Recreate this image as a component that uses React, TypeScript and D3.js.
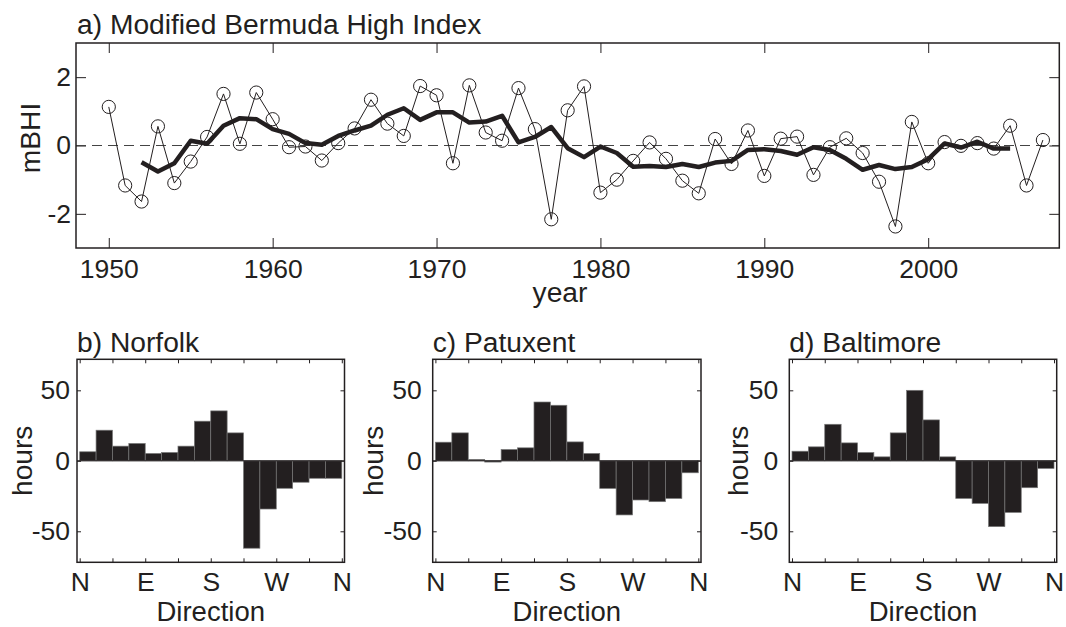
import React, { useEffect, useRef } from 'react';
import * as d3 from 'd3';

// a) modified Bermuda High index, 1950-2007
const firstYear = 1950;
const mbhi = [
  1.13, -1.17, -1.64, 0.56, -1.10, -0.47, 0.25, 1.51, 0.05, 1.55,
  0.77, -0.05, -0.03, -0.44, 0.07, 0.50, 1.34, 0.64, 0.28, 1.74,
  1.47, -0.52, 1.76, 0.38, 0.14, 1.68, 0.48, -2.16, 1.03, 1.73,
  -1.38, -1.00, -0.45, 0.09, -0.39, -1.03, -1.40, 0.19, -0.54, 0.44,
  -0.89, 0.20, 0.26, -0.86, -0.05, 0.21, -0.22, -1.06, -2.37, 0.69,
  -0.52, 0.10, -0.01, 0.07, -0.09, 0.58, -1.17, 0.16
];
// smoothed index, 1952-2005
const smoothFirstYear = 1952;
const mbhiSmooth = [
  -0.49, -0.76, -0.52, 0.14, 0.05, 0.58, 0.80, 0.77, 0.48, 0.34,
  0.07, 0.02, 0.28, 0.44, 0.58, 0.90, 1.09, 0.75, 0.97, 0.97,
  0.67, 0.70, 0.87, 0.09, 0.25, 0.54, -0.08, -0.34, -0.03, -0.22,
  -0.62, -0.60, -0.63, -0.54, -0.63, -0.50, -0.45, -0.13, -0.11, -0.16,
  -0.27, -0.05, -0.13, -0.39, -0.71, -0.57, -0.69, -0.63, -0.40, 0.06,
  -0.06, 0.11, -0.09, -0.09
];
const yearTicks = [1950, 1960, 1970, 1980, 1990, 2000];
const mbhiTicks = [-2, 0, 2];

// b-d) hours per wind direction bin (22.5 deg bins starting at N)
const dirBins = [0, 22.5, 45, 67.5, 90, 112.5, 135, 157.5, 180, 202.5, 225, 247.5, 270, 292.5, 315, 337.5];
const norfolk = [6.4, 21.7, 10.4, 12.3, 5.2, 5.9, 10.4, 28.1, 35.4, 19.8, -62.0, -34.2, -19.5, -15.2, -12.4, -12.4];
const patuxent = [13.2, 19.8, 1.0, -0.9, 8.0, 9.2, 41.7, 39.4, 13.4, 5.2, -19.6, -38.4, -27.8, -29.0, -26.7, -8.5];
const baltimore = [6.8, 9.9, 25.9, 12.7, 5.9, 2.8, 19.8, 50.0, 29.0, 2.8, -26.7, -30.2, -46.7, -36.6, -19.1, -5.4];
const dirTicks = [0, 45, 90, 135, 180, 225, 270, 315, 360];
const dirLabels: Record<number, string> = { 0: 'N', 90: 'E', 180: 'S', 270: 'W', 360: 'N' };
const hourTicks = [-50, 0, 50];

const FONT = '"Liberation Sans", Arial, Helvetica, sans-serif';
const INK = '#231f20';
const TICK_FS = 26.5;
const LABEL_FS = 28.2;

const panels = [
  { title: 'b) Norfolk', values: norfolk, left: 77, right: 344.5, labelX: 31.5, pad: 7 },
  { title: 'c) Patuxent', values: patuxent, left: 432.7, right: 701, labelX: 383, pad: 11 },
  { title: 'd) Baltimore', values: baltimore, left: 789.3, right: 1056.7, labelX: 748, pad: 11 },
];

function styleAxis(g: any) {
  g.select('.domain').remove();
  g.selectAll('line').attr('stroke', INK).attr('stroke-width', 1);
  g.selectAll('text').attr('fill', INK).style('font-family', FONT).style('font-size', TICK_FS + 'px');
}

function drawTop(svg: any) {
  const L = 76, R = 1059.3, T = 43, B = 248;
  const x = d3.scaleLinear().domain([1948, 2008]).range([L, R]);
  const y = d3.scaleLinear().domain([-3, 3]).range([B, T]);
  const g = svg.append('g');

  g.append('g').attr('transform', `translate(0,${B})`)
    .call(d3.axisBottom(x).tickValues(yearTicks).tickSize(-10).tickPadding(11).tickFormat((d: any) => String(d)))
    .call(styleAxis);
  g.append('g').attr('transform', `translate(0,${T})`)
    .call(d3.axisTop(x).tickValues(yearTicks).tickSize(-10).tickFormat(() => ''))
    .call(styleAxis);
  g.append('g').attr('transform', `translate(${L},0)`)
    .call(d3.axisLeft(y).tickValues(mbhiTicks).tickSize(-10).tickPadding(5).tickFormat((d: any) => String(d)))
    .call(styleAxis);
  g.append('g').attr('transform', `translate(${R},0)`)
    .call(d3.axisRight(y).tickValues(mbhiTicks).tickSize(-10).tickFormat(() => ''))
    .call(styleAxis);

  // zero line
  g.append('line')
    .attr('x1', L).attr('x2', R).attr('y1', y(0)).attr('y2', y(0))
    .attr('stroke', '#444').attr('stroke-width', 1).attr('stroke-dasharray', '10,6');

  const pts = mbhi.map((v, i) => ({ yr: firstYear + i, v }));
  const sm = mbhiSmooth.map((v, i) => ({ yr: smoothFirstYear + i, v }));
  const line = d3.line<any>().x((d) => x(d.yr)).y((d) => y(d.v));

  g.append('path').attr('d', line(pts)).attr('fill', 'none').attr('stroke', INK).attr('stroke-width', 1);
  g.selectAll('.pt').data(pts).enter().append('circle')
    .attr('cx', (d: any) => x(d.yr)).attr('cy', (d: any) => y(d.v)).attr('r', 6.6)
    .attr('fill', 'none').attr('stroke', INK).attr('stroke-width', 1);
  g.append('path').attr('d', line(sm)).attr('fill', 'none').attr('stroke', INK)
    .attr('stroke-width', 4.5).attr('stroke-linejoin', 'round').attr('stroke-linecap', 'butt');

  g.append('rect').attr('x', L).attr('y', T).attr('width', R - L).attr('height', B - T)
    .attr('fill', 'none').attr('stroke', INK).attr('stroke-width', 1.5);

  g.append('text').attr('x', L + 1).attr('y', 34).text('a) Modified Bermuda High Index')
    .style('font-family', FONT).style('font-size', LABEL_FS + 'px').attr('fill', INK);
  g.append('text').attr('transform', `translate(40,138) rotate(-90)`).attr('text-anchor', 'middle')
    .text('mBHI').style('font-family', FONT).style('font-size', LABEL_FS + 'px').attr('fill', INK);
  g.append('text').attr('x', 560).attr('y', 302).attr('text-anchor', 'middle')
    .text('year').style('font-family', FONT).style('font-size', LABEL_FS + 'px').attr('fill', INK);
}

function drawPanel(svg: any, p: any) {
  const T = 359.3, B = 562.3;
  const x = d3.scaleLinear().domain([-3.7, 363.7]).range([p.left, p.right]);
  const y = d3.scaleLinear().domain([-72, 72]).range([B, T]);
  const g = svg.append('g');

  g.selectAll('.bar').data(p.values).enter().append('rect')
    .attr('x', (_: any, i: number) => x(dirBins[i]))
    .attr('width', x(22.5) - x(0))
    .attr('y', (d: number) => y(Math.max(d, 0)))
    .attr('height', (d: number) => Math.abs(y(d) - y(0)))
    .attr('fill', INK).attr('stroke', '#777').attr('stroke-width', 0.7);

  g.append('line').attr('x1', p.left).attr('x2', p.right).attr('y1', y(0)).attr('y2', y(0))
    .attr('stroke', INK).attr('stroke-width', 1);

  g.append('g').attr('transform', `translate(0,${B})`)
    .call(d3.axisBottom(x).tickValues(dirTicks).tickSize(-4).tickPadding(9.5).tickFormat((d: any) => dirLabels[d] || ''))
    .call(styleAxis);
  g.append('g').attr('transform', `translate(0,${T})`)
    .call(d3.axisTop(x).tickValues(dirTicks).tickSize(-4).tickFormat(() => ''))
    .call(styleAxis);
  g.append('g').attr('transform', `translate(${p.left},0)`)
    .call(d3.axisLeft(y).tickValues(hourTicks).tickSize(-4).tickPadding(p.pad).tickFormat((d: any) => String(d)))
    .call(styleAxis);
  g.append('g').attr('transform', `translate(${p.right},0)`)
    .call(d3.axisRight(y).tickValues(hourTicks).tickSize(-4).tickFormat(() => ''))
    .call(styleAxis);

  g.append('rect').attr('x', p.left).attr('y', T).attr('width', p.right - p.left).attr('height', B - T)
    .attr('fill', 'none').attr('stroke', INK).attr('stroke-width', 1.5);

  g.append('text').attr('x', p.left).attr('y', 352).text(p.title)
    .style('font-family', FONT).style('font-size', LABEL_FS + 'px').attr('fill', INK);
  g.append('text').attr('transform', `translate(${p.labelX},${(T + B) / 2}) rotate(-90)`).attr('text-anchor', 'middle')
    .text('hours').style('font-family', FONT).style('font-size', LABEL_FS + 'px').attr('fill', INK);
  g.append('text').attr('x', (p.left + p.right) / 2).attr('y', 621.2).attr('text-anchor', 'middle')
    .text('Direction').style('font-family', FONT).style('font-size', '27.5px').attr('fill', INK);
}

export default function App() {
  const ref = useRef<SVGSVGElement>(null);

  useEffect(() => {
    const svg = d3.select(ref.current);
    svg.selectAll('*').remove();
    drawTop(svg);
    panels.forEach((p) => drawPanel(svg, p));
  }, []);

  return (
    <svg
      ref={ref}
      width={1066}
      height={627}
      style={{ position: 'absolute', left: 0, top: 0, background: '#fff' }}
    />
  );
}
